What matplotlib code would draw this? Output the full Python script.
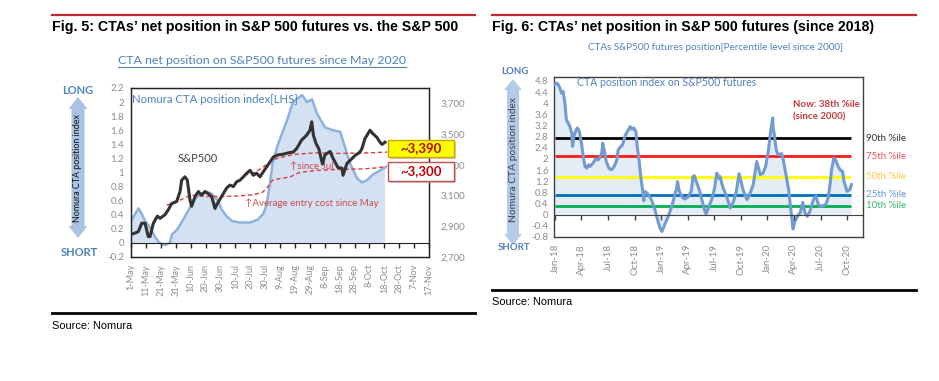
import numpy as np
import matplotlib
matplotlib.use("Agg")
import matplotlib.pyplot as plt
from matplotlib.patches import Polygon, Rectangle
from matplotlib.lines import Line2D
import matplotlib.transforms as mtransforms

W, H = 939, 381

# ---------------- Fig. 5 data (days since 1-May-2020) ----------------
cta_days = [0, 3, 5, 7, 9, 13, 16, 19, 23, 26, 27.5, 31, 35, 40, 44, 50, 54, 58, 61, 64,
            68, 73, 80, 85, 89, 91, 93, 95, 98, 101.3, 104.7, 108.7, 114.8, 118.1, 121.5,
            124.8, 130.2, 135.6, 140.3, 142.3, 147, 151.7, 155, 158.4, 161.7, 167.1, 170.5]
cta_pos = [0.31, 0.42, 0.49, 0.42, 0.33, 0.21, 0.09, 0.0, -0.03, 0.0, 0.12, 0.19, 0.33, 0.52,
           0.66, 0.73, 0.70, 0.61, 0.47, 0.38, 0.31, 0.29, 0.29, 0.33, 0.42, 0.55, 0.80, 1.13,
           1.36, 1.55, 1.74, 2.0, 2.10, 2.0, 2.04, 1.84, 1.64, 1.60, 1.58, 1.45, 1.13, 0.92,
           0.86, 0.89, 0.96, 1.03, 1.07]

spx_days = [0, 2.7, 4.9, 7.2, 9.4, 11.6, 12.8, 15, 17.7, 19.5, 22.8, 25, 27.3, 30.7, 32.9,
            34, 36.2, 37.8, 39.6, 40.7, 43, 45.2, 47.4, 49.7, 51.9, 54.1, 56.4, 57.5, 60.8,
            64.2, 66.4, 68.7, 70.9, 73.2, 75.4, 77.6, 79.9, 82.1, 84.3, 86.6, 88.8, 91.1,
            93.3, 95.5, 98.9, 102.2, 105.6, 108.9, 111.2, 114.5, 117.9, 120.1, 121.3, 122.4,
            124.2, 126, 128.5, 130.2, 133.6, 135.6, 138.9, 141.6, 142.3, 145, 147, 150.3,
            153.7, 155, 157, 160.4, 162.4, 165, 167.1, 168.5, 170.5]
spx = [2847, 2856, 2865, 2920, 2920, 2833, 2833, 2920, 2966, 2952, 2975, 3007, 3048, 3062,
       3126, 3200, 3222, 3200, 3071, 3030, 3094, 3126, 3103, 3126, 3112, 3094, 3016, 3039,
       3094, 3149, 3168, 3158, 3190, 3200, 3222, 3245, 3264, 3232, 3245, 3222, 3255, 3287,
       3319, 3351, 3365, 3369, 3378, 3383, 3406, 3461, 3493, 3525, 3580, 3493, 3438, 3406,
       3305, 3365, 3387, 3342, 3282, 3278, 3232, 3310, 3328, 3360, 3383, 3406, 3470, 3525,
       3502, 3479, 3447, 3433, 3447]

may_cost_days = [24, 28, 34, 40, 50, 60, 70, 82, 88, 91, 95, 101, 107, 113, 125, 140, 155, 165, 172]
may_cost = [3039, 3048, 3075, 3103, 3094, 3094, 3096, 3105, 3120, 3145, 3200, 3212, 3222,
            3250, 3264, 3270, 3273, 3280, 3291]

jul_cost_days = [76, 83, 89, 95, 102, 110, 125, 140, 160, 172]
jul_cost = [3232, 3250, 3287, 3333, 3351, 3369, 3378, 3374, 3378, 3383]

x5_tick_days = list(range(0, 201, 10))
x5_tick_labels = ["1-May", "11-May", "21-May", "31-May", "10-Jun", "20-Jun", "30-Jun",
                  "10-Jul", "20-Jul", "30-Jul", "9-Aug", "19-Aug", "29-Aug", "8-Sep",
                  "18-Sep", "28-Sep", "8-Oct", "18-Oct", "28-Oct", "7-Nov", "17-Nov"]
y5_left_ticks = [-0.2, 0, 0.2, 0.4, 0.6, 0.8, 1, 1.2, 1.4, 1.6, 1.8, 2, 2.2]
y5_right_ticks = [2700, 2900, 3100, 3300, 3500, 3700]
box_labels = ["~3,390", "~3,300"]

# ---------------- Fig. 6 data (months since Jan-2018) ----------------
cta6_m = [0.0, 0.2, 0.4, 0.56, 0.75, 0.94, 1.13, 1.3, 1.5, 1.7, 1.9, 2.0, 2.15, 2.4, 2.55,
          2.75, 3.0, 3.2, 3.4, 3.6, 3.8, 3.95, 4.3, 4.6, 4.9, 5.1, 5.3, 5.4, 5.6, 5.8, 6.1,
          6.4, 6.7, 7.0, 7.15, 7.4, 7.65, 7.9, 8.2, 8.5, 8.7, 8.9, 9.15, 9.3, 9.5, 9.7, 9.9,
          10.05, 10.12, 10.4, 10.65, 10.9, 11.3, 11.7, 11.95, 12.1, 12.4, 12.8, 13.2, 13.6,
          13.75, 13.85, 14.05, 14.4, 14.7, 15.1, 15.4, 15.6, 15.75, 15.9, 16.3, 16.6, 17.0,
          17.1, 17.4, 17.7, 18.0, 18.3, 18.5, 18.65, 19.0, 19.4, 19.8, 20.2, 20.5, 20.8,
          21.3, 21.7, 22.0, 22.4, 22.8, 23.2, 23.5, 23.8, 24.1, 24.4, 24.6, 24.65, 24.75,
          25.0, 25.2, 25.6, 25.8, 26.1, 26.4, 26.6, 26.9, 27.1, 27.5, 27.7, 28.0, 28.25,
          28.5, 28.8, 29.2, 29.5, 29.75, 30.1, 30.6, 30.9, 31.1, 31.25, 31.5, 31.7, 32.0,
          32.2, 32.5, 32.65, 33.0, 33.3, 33.5]
cta6_val = [4.66, 4.72, 4.66, 4.54, 4.36, 4.42, 4.0, 3.40, 3.29, 3.16, 2.93, 2.45, 2.81,
            3.05, 3.11, 2.99, 2.57, 2.09, 1.73, 1.67, 1.79, 1.73, 1.85, 2.0, 1.97, 2.07,
            2.21, 2.57, 2.27, 1.91, 1.67, 1.61, 1.73, 1.97, 2.33, 2.43, 2.51, 2.81, 2.99,
            3.16, 3.07, 3.11, 2.99, 2.45, 1.97, 1.37, 0.90, 0.50, 0.84, 0.78, 0.68, 0.54,
            0.18, -0.30, -0.54, -0.60, -0.36, -0.06, 0.30, 0.78, 0.96, 1.19, 0.84, 0.62,
            0.56, 0.66, 0.84, 1.37, 1.40, 1.25, 0.90, 0.54, 0.06, 0.04, 0.30, 0.54, 0.90,
            1.49, 1.31, 1.37, 0.96, 0.66, 0.24, 0.50, 0.84, 1.47, 0.84, 0.54, 0.72, 1.08,
            1.91, 1.43, 1.49, 1.73, 2.27, 3.05, 3.47, 3.11, 2.93, 2.33, 2.15, 2.19, 1.97,
            1.43, 0.90, 0.30, -0.51, -0.24, 0.0, 0.06, 0.44, 0.06, -0.06, 0.12, 0.54, 0.66,
            0.36, 0.30, 0.36, 0.66, 1.14, 1.61, 2.03, 1.97, 1.73, 1.61, 1.55, 1.19, 0.84,
            0.90, 1.08]

pct_levels = [2.75, 2.09, 1.37, 0.72, 0.32]
pct_labels = ["90th %ile", "75th %ile", "50th %ile", "25th %ile", "10th %ile"]
pct_line_colors = ["#000000", "#ff1a1a", "#ffff00", "#0070c0", "#00b050"]
pct_text_colors = ["#333333", "#f0505a", "#ffc83d", "#5b9bd5", "#3cb371"]

x6_tick_m = list(range(0, 34, 3))
x6_tick_labels = ["Jan-18", "Apr-18", "Jul-18", "Oct-18", "Jan-19", "Apr-19", "Jul-19",
                  "Oct-19", "Jan-20", "Apr-20", "Jul-20", "Oct-20"]
y6_ticks = [-0.8, -0.4, 0, 0.4, 0.8, 1.2, 1.6, 2, 2.4, 2.8, 3.2, 3.6, 4, 4.4, 4.8]

# ---------------- style ----------------
TFONT = ["Liberation Sans", "DejaVu Sans"]
CFONT = ["Lato", "DejaVu Sans"]
GREY = "#8c8c8c"
BLUE_T = "#4f81bd"
RED_T = "#c00000"

fig = plt.figure(figsize=(W / 100, H / 100), dpi=100)


def fx(px):
    return px / W


def fy(py):
    return 1 - py / H


def hline(x0, x1, y, color, lw):
    fig.add_artist(Line2D([fx(x0), fx(x1)], [fy(y), fy(y)], color=color, lw=lw,
                          transform=fig.transFigure))


def double_arrow(cx, top, bot, shaft, head, hlen, color):
    pts = [(cx, top), (cx + head, top + hlen), (cx + shaft, top + hlen),
           (cx + shaft, bot - hlen), (cx + head, bot - hlen), (cx, bot),
           (cx - head, bot - hlen), (cx - shaft, bot - hlen), (cx - shaft, top + hlen),
           (cx - head, top + hlen)]
    fig.add_artist(Polygon([(fx(a), fy(b)) for a, b in pts], closed=True, facecolor=color,
                           edgecolor="none", transform=fig.transFigure))


# header / footer decorations
hline(52, 475, 15, "#c0282d", 1.6)
hline(492, 916, 15, "#c0282d", 1.6)
hline(52, 475, 313, "#000000", 2.0)
hline(492, 916, 290, "#000000", 2.0)

fig.text(fx(52), fy(27), "Fig. 5: CTAs\u2019 net position in S&P 500 futures vs. the S&P 500",
         family=TFONT, weight="bold", size=10.2, ha="left", va="center")
fig.text(fx(492), fy(27), "Fig. 6: CTAs\u2019 net position in S&P 500 futures (since 2018)",
         family=TFONT, weight="bold", size=10.2, ha="left", va="center")
fig.text(fx(52), fy(326), "Source: Nomura", family=TFONT, size=7.9, ha="left", va="center")
fig.text(fx(492), fy(302), "Source: Nomura", family=TFONT, size=7.9, ha="left", va="center")

sub5 = fig.text(fx(262), fy(61), "CTA net position on S&P500 futures since May 2020",
                family=CFONT, size=8.9, color=BLUE_T, ha="center", va="center")
fig.text(fx(716), fy(48), "CTAs S&P500 futures position[Percentile level since 2000]",
         family=CFONT, size=7.1, color=BLUE_T, ha="center", va="center")

# side arrows
double_arrow(78, 97, 238, 6.5, 9.5, 12, "#a9c3e4")
double_arrow(513, 79, 245, 6, 9, 11, "#b3cbe8")
fig.text(fx(78), fy(168), "Nomura CTA position index", family=CFONT, size=6.4, rotation=90,
         ha="center", va="center", color="#111111")
fig.text(fx(513), fy(160), "Nomura CTA position index", family=CFONT, size=7.4, rotation=90,
         ha="center", va="center", color="#404040")
for x, y, s, t in [(77.5, 90, 8.0, "LONG"), (79.5, 253, 8.0, "SHORT"),
                   (515, 72, 7.0, "LONG"), (514, 248, 7.0, "SHORT")]:
    fig.text(fx(x), fy(y), t, family=CFONT, size=s, weight="bold", color=BLUE_T,
             ha="center", va="center")

# ---------------- Fig. 5 axes ----------------
ax = fig.add_axes([fx(131), fy(257), (429 - 131) / W, (257 - 88) / H])
ax.set_xlim(0, 200)
ax.set_ylim(-0.2, 2.2)
ax.fill_between(cta_days, cta_pos, 0, facecolor="#d3e1f3", edgecolor="none", zorder=1)
ax.plot(cta_days, cta_pos, color="#8fb2dd", lw=1.8, zorder=2)
ax.set_yticks(y5_left_ticks)
ax.set_yticklabels([f"{v:g}" for v in y5_left_ticks])
ax.tick_params(axis="y", length=0, pad=5, labelsize=7, labelcolor=GREY)
for lab in ax.get_yticklabels():
    lab.set_family(CFONT)
ax.set_xticks(x5_tick_days)
ax.set_xticklabels(x5_tick_labels, rotation=90)
ax.tick_params(axis="x", length=0, pad=5, labelsize=6.6, labelcolor=GREY)
for lab in ax.get_xticklabels():
    lab.set_family(CFONT)
for sp in ax.spines.values():
    sp.set_color("#222222")
    sp.set_linewidth(1.0)
zero5 = ax.secondary_xaxis(0.2 / 2.4)
zero5.set_xticks(x5_tick_days)
zero5.set_xticklabels([])
zero5.tick_params(axis="x", length=3.5, direction="out", color="#222222", width=1)
zero5.spines["bottom"].set_color("#222222")
zero5.set_zorder(3)

ax.text(0.005, 0.93, "Nomura CTA position index[LHS]", transform=ax.transAxes,
        family=CFONT, size=8.2, color=BLUE_T, ha="left", va="center")

ax2 = ax.twinx()
ax2.set_ylim(2700, 3800)
ax2.set_yticks(y5_right_ticks)
ax2.set_yticklabels([f"{v:,}" for v in y5_right_ticks])
ax2.tick_params(axis="y", length=0, pad=8, labelsize=7, labelcolor=GREY)
for lab in ax2.get_yticklabels():
    lab.set_family(CFONT)
for sp in ax2.spines.values():
    sp.set_color("#222222")
ax2.plot(may_cost_days, may_cost, color="#e03a3a", lw=1.0, dashes=(3, 2), zorder=3)
ax2.plot(jul_cost_days, jul_cost, color="#e03a3a", lw=1.0, dashes=(3, 2), zorder=3)
ax2.plot(spx_days, spx, color="#333333", lw=2.2, zorder=4)
ax2.text(31, 3340, "S&P500", family=CFONT, size=8, color="#404040", ha="left", va="center")
ax2.text(107, 3290, "\u2191since Jul", family=CFONT, size=7, color="#d0494d",
         ha="left", va="center")
ax2.text(76.5, 3050, "\u2191Average entry cost since May", family=CFONT, size=7,
         color="#d0494d", ha="left", va="center")

# value boxes
for (y0, y1, fc, ec), txt in zip([(140, 157, "#ffff00", "#d9a100"),
                                  (162, 181, "#ffffff", "#c0504d")], box_labels):
    fig.add_artist(Rectangle((fx(390), fy(y1 + 2)), fx(66), (y1 - y0) / H,
                             facecolor="#b0b0b0", edgecolor="none", alpha=0.6,
                             transform=fig.transFigure, zorder=5))
    fig.add_artist(Rectangle((fx(388), fy(y1)), fx(66), (y1 - y0) / H, facecolor=fc,
                             edgecolor=ec, lw=1.0, transform=fig.transFigure, zorder=6))
    fig.text(fx(421), fy((y0 + y1) / 2), txt, family=CFONT, size=9.5, weight="bold",
             color=RED_T, ha="center", va="center", zorder=7)

# ---------------- Fig. 6 axes ----------------
bx = fig.add_axes([fx(554), fy(237), (863 - 554) / W, (237 - 77) / H])
bx.set_xlim(-0.1, 34.8)
bx.set_ylim(-0.8, 4.94)
bx.fill_between(cta6_m, cta6_val, 0, facecolor="#e4ecf6", edgecolor="none", zorder=1)
for lvl, c in zip(pct_levels, pct_line_colors):
    bx.hlines(lvl, cta6_m[0], cta6_m[-1], color=c, lw=2.0, zorder=2)
bx.plot(cta6_m, cta6_val, color="#729bd0", lw=2.2, zorder=3)
trans = mtransforms.blended_transform_factory(bx.transAxes, bx.transData)
for lvl, lab, c in zip(pct_levels, pct_labels, pct_text_colors):
    bx.text(1.01, lvl, lab, transform=trans, family=CFONT, size=7, color=c,
            ha="left", va="center")
bx.set_yticks(y6_ticks)
bx.set_yticklabels([f"{v:g}" for v in y6_ticks])
bx.tick_params(axis="y", length=0, pad=4, labelsize=7, labelcolor=GREY)
for lab in bx.get_yticklabels():
    lab.set_family(CFONT)
bx.set_xticks(x6_tick_m)
bx.set_xticklabels(x6_tick_labels, rotation=90)
bx.tick_params(axis="x", length=0, pad=5, labelsize=7, labelcolor=GREY)
for lab in bx.get_xticklabels():
    lab.set_family(CFONT)
for sp in bx.spines.values():
    sp.set_color("#404040")
    sp.set_linewidth(1.0)
zero6 = bx.secondary_xaxis(0.8 / 5.74)
zero6.set_xticks(x6_tick_m)
zero6.set_xticklabels([])
zero6.tick_params(axis="x", length=3.5, direction="out", color="#404040", width=1)
zero6.spines["bottom"].set_color("#404040")
zero6.set_zorder(4)

bx.text(0.074, 0.9625, "CTA position index on S&P500 futures", transform=bx.transAxes,
        family=CFONT, size=7.6, color=BLUE_T, ha="left", va="center")
bx.text(0.773, 0.831, "Now: 38th %ile", transform=bx.transAxes, family=CFONT, size=7,
        weight="bold", color="#c8383b", ha="left", va="center")
bx.text(0.773, 0.75, "(since 2000)", transform=bx.transAxes, family=CFONT, size=7,
        weight="bold", color="#c8383b", ha="left", va="center")

# underline for Fig. 5 subtitle
fig.canvas.draw()
bb = sub5.get_window_extent().transformed(fig.transFigure.inverted())
fig.add_artist(Line2D([bb.x0, bb.x1], [bb.y0 - 0.002, bb.y0 - 0.002], color=BLUE_T, lw=0.8,
                      transform=fig.transFigure))

fig.savefig("out.png", dpi=100)
